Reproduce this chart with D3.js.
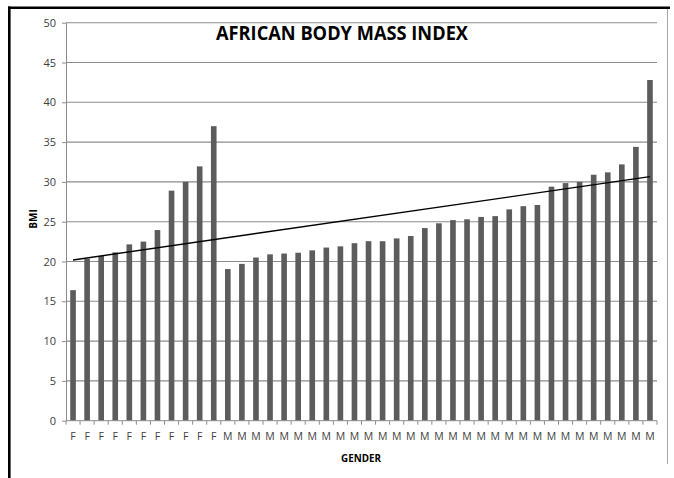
<!DOCTYPE html>
<html>
<head>
<meta charset="utf-8">
<script src="https://cdn.jsdelivr.net/npm/d3@7"></script>
<style>
  html, body { margin: 0; padding: 0; background: #fff; }
  svg { display: block; }
  text { font-family: "Open Sans", "Liberation Sans", sans-serif; }
</style>
</head>
<body>
<svg id="chart" width="674" height="478"></svg>
<script>
// Gender of each participant, in the order the bars are drawn
const categories = [
  "F","F","F","F","F","F","F","F","F","F","F",
  "M","M","M","M","M","M","M","M","M","M","M","M","M","M","M","M",
  "M","M","M","M","M","M","M","M","M","M","M","M","M","M","M"
];
// Body mass index of each participant
const bmi = [
  16.4, 20.35, 20.7, 21.15, 22.15, 22.5, 23.95, 28.9, 30.0, 31.95, 37.0,
  19.05, 19.7, 20.5, 20.9, 21.0, 21.1, 21.4, 21.75, 21.9, 22.3, 22.55, 22.55,
  22.9, 23.2, 24.2, 24.8, 25.2, 25.3, 25.6, 25.7, 26.55, 26.95, 27.1,
  29.4, 29.85, 30.0, 30.9, 31.2, 32.2, 34.4, 42.8
];
const yTicks = [0, 5, 10, 15, 20, 25, 30, 35, 40, 45, 50];

const svg = d3.select("#chart");
const plot = { left: 66, right: 657, top: 22.7, bottom: 420.7 };

const x = d3.scaleBand()
  .domain(d3.range(bmi.length))
  .range([plot.left, plot.right])
  .paddingInner(0.6)
  .paddingOuter(0.3);
const y = d3.scaleLinear().domain([0, 50]).range([plot.bottom, plot.top]);

// Frame around the chart
svg.append("line").attr("x1", 667.5).attr("x2", 667.5).attr("y1", 9).attr("y2", 464)
  .attr("stroke", "#a6a6a6").attr("stroke-width", 1);
svg.append("line").attr("x1", 8).attr("x2", 670).attr("y1", 7.8).attr("y2", 7.8)
  .attr("stroke", "#000").attr("stroke-width", 2.6);
svg.append("line").attr("x1", 9.3).attr("x2", 9.3).attr("y1", 6.5).attr("y2", 478)
  .attr("stroke", "#000").attr("stroke-width", 2.6);

// Horizontal gridlines
svg.append("g")
  .selectAll("line")
  .data(yTicks.filter(d => d > 0))
  .join("line")
  .attr("x1", plot.left).attr("x2", plot.right)
  .attr("y1", d => y(d)).attr("y2", d => y(d))
  .attr("stroke", "#8c8c8c").attr("stroke-width", 1.1);

// Y axis
const yAxis = svg.append("g")
  .attr("transform", `translate(${plot.left},0)`)
  .call(d3.axisLeft(y).tickValues(yTicks).tickSize(4).tickPadding(6).tickSizeOuter(0));
yAxis.select(".domain").attr("stroke", "#8c8c8c");
yAxis.selectAll(".tick line").attr("stroke", "#8c8c8c");
yAxis.selectAll(".tick text")
  .attr("fill", "#404040").style("font-size", "11px");

// Bars
svg.append("g")
  .selectAll("rect")
  .data(bmi)
  .join("rect")
  .attr("x", (d, i) => x(i))
  .attr("y", d => y(d))
  .attr("width", x.bandwidth())
  .attr("height", d => y(0) - y(d))
  .attr("fill", "#5c5c5c");

// X axis with category labels and boundary tick marks
const xAxis = svg.append("g")
  .attr("transform", `translate(0,${plot.bottom})`)
  .call(d3.axisBottom(x).tickFormat(i => categories[i]).tickSize(0).tickPadding(12));
xAxis.select(".domain").remove();
xAxis.selectAll(".tick text")
  .attr("fill", "#404040").style("font-size", "10.5px");
svg.append("line")
  .attr("x1", plot.left).attr("x2", plot.right)
  .attr("y1", plot.bottom).attr("y2", plot.bottom)
  .attr("stroke", "#8c8c8c");
svg.append("g")
  .selectAll("line")
  .data(d3.range(bmi.length + 1))
  .join("line")
  .attr("x1", i => plot.left + i * x.step())
  .attr("x2", i => plot.left + i * x.step())
  .attr("y1", plot.bottom).attr("y2", plot.bottom + 4)
  .attr("stroke", "#8c8c8c");

// Linear trendline (least squares fit over bar index)
const n = bmi.length;
const mx = d3.mean(d3.range(n));
const my = d3.mean(bmi);
const slope = d3.sum(bmi, (v, i) => (i - mx) * (v - my)) / d3.sum(d3.range(n), i => (i - mx) ** 2);
const intercept = my - slope * mx;
const trend = [0, n - 1].map(i => [x(i) + x.bandwidth() / 2, y(intercept + slope * i)]);
svg.append("path")
  .attr("d", d3.line()(trend))
  .attr("stroke", "#000").attr("stroke-width", 1.4).attr("fill", "none");

// Title and axis titles
svg.append("text")
  .attr("x", 342).attr("y", 40)
  .attr("text-anchor", "middle")
  .attr("textLength", 252).attr("lengthAdjust", "spacingAndGlyphs")
  .style("font-size", "19px").style("font-weight", "bold").attr("fill", "#000")
  .text("AFRICAN BODY MASS INDEX");
svg.append("text")
  .attr("x", 361).attr("y", 462)
  .attr("text-anchor", "middle")
  .attr("textLength", 40).attr("lengthAdjust", "spacingAndGlyphs")
  .style("font-size", "10px").style("font-weight", "bold").attr("fill", "#000")
  .text("GENDER");
svg.append("text")
  .attr("transform", "translate(36.5,219) rotate(-90)")
  .attr("text-anchor", "middle")
  .style("font-size", "10px").style("font-weight", "bold").attr("fill", "#000")
  .text("BMI");
</script>
</body>
</html>
